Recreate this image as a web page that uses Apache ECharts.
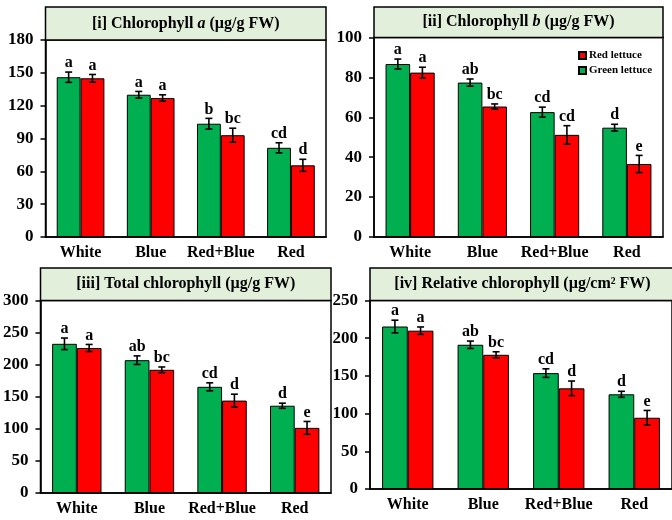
<!DOCTYPE html>
<html>
<head>
<meta charset="utf-8">
<script src="https://cdn.jsdelivr.net/npm/echarts@6/dist/echarts.min.js"></script>
<style>
  html, body { margin: 0; padding: 0; background: #fff; }
  #chart { width: 672px; height: 520px; }
</style>
</head>
<body>
<div id="chart"></div>
<script>
// Light treatments
const categories = ['White', 'Blue', 'Red+Blue', 'Red'];

// [i] Chlorophyll a (µg/g FW)
const chlAGreen = [146, 130, 103.5, 81.5];
const chlAGreenErr = [4.7, 3.0, 4.9, 4.6];
const chlAGreenSig = ['a', 'a', 'b', 'cd'];
const chlARed = [145, 127, 93, 65.5];
const chlARedErr = [3.5, 2.9, 6.4, 5.5];
const chlARedSig = ['a', 'a', 'bc', 'd'];

// [ii] Chlorophyll b (µg/g FW)
const chlBGreen = [86.7, 77.4, 62.6, 54.8];
const chlBGreenErr = [2.5, 1.8, 2.5, 1.7];
const chlBGreenSig = ['a', 'ab', 'cd', 'd'];
const chlBRed = [82.4, 65.4, 51.2, 36.6];
const chlBRedErr = [2.7, 1.3, 4.6, 4.3];
const chlBRedSig = ['a', 'bc', 'cd', 'e'];

// [iii] Total chlorophyll (µg/g FW)
const totGreen = [232.5, 207, 165.5, 136];
const totGreenErr = [9, 6.7, 6.2, 4];
const totGreenSig = ['a', 'ab', 'cd', 'd'];
const totRed = [226, 192, 144, 101.5];
const totRedErr = [5.5, 4.4, 10, 10];
const totRedSig = ['a', 'bc', 'd', 'e'];

// [iv] Relative chlorophyll (µg/cm² FW)
const relGreen = [215.5, 191.3, 153.7, 125.6];
const relGreenErr = [8.4, 4.9, 5.7, 4];
const relGreenSig = ['a', 'ab', 'cd', 'd'];
const relRed = [210, 178, 133.5, 94.5];
const relRedErr = [4.9, 4, 9.7, 9.7];
const relRedSig = ['a', 'bc', 'd', 'e'];

// y-axis scales per panel
const yMax = [180, 100, 300, 250];
const yStep = [30, 20, 50, 50];

const titles = [
  '[i] Chlorophyll {it|a} (µg/g FW)',
  '[ii] Chlorophyll {it|b} (µg/g FW)',
  '[iii] Total chlorophyll (µg/g FW)',
  '[iv] Relative chlorophyll (µg/cm² FW)'
];

const panels = [
  { green: chlAGreen, gErr: chlAGreenErr, gSig: chlAGreenSig, red: chlARed, rErr: chlARedErr, rSig: chlARedSig },
  { green: chlBGreen, gErr: chlBGreenErr, gSig: chlBGreenSig, red: chlBRed, rErr: chlBRedErr, rSig: chlBRedSig },
  { green: totGreen, gErr: totGreenErr, gSig: totGreenSig, red: totRed, rErr: totRedErr, rSig: totRedSig },
  { green: relGreen, gErr: relGreenErr, gSig: relGreenSig, red: relRed, rErr: relRedErr, rSig: relRedSig }
];

// Layout of the four plot boxes and their header strips
const boxes = [
  { left: 45.5, top: 40, width: 280.5, height: 197, headTop: 7 },
  { left: 374, top: 37.5, width: 289, height: 199.5, headTop: 7 },
  { left: 40.5, top: 300.5, width: 290.5, height: 192.5, headTop: 268 },
  { left: 370, top: 300.5, width: 305, height: 188.5, headTop: 268 }
];

const SERIF = '"Liberation Serif", "Times New Roman", serif';
const GREEN = '#00b050';
const RED = '#ff0000';
const CAT_GAP = 0.32;            // barCategoryGap as fraction
const HALF = (1 - CAT_GAP) / 4;  // offset of each bar centre from the category centre

function errorSeries(idx, values, errs, sigs, side) {
  return {
    type: 'custom',
    xAxisIndex: idx,
    yAxisIndex: idx,
    z: 5,
    silent: true,
    data: values.map((v, i) => [i, v, errs[i]]),
    renderItem: function (params, api) {
      const i = api.value(0);
      const v = api.value(1);
      const e = api.value(2);
      const band = api.size([1, 0])[0];
      const c = api.coord([i, v]);
      const cx = c[0] + side * band * HALF;
      const yTop = api.coord([i, v + e])[1];
      const yBot = api.coord([i, v - e])[1];
      const cap = 3.5;
      const ls = { stroke: '#000', lineWidth: 1.6 };
      return {
        type: 'group',
        children: [
          { type: 'line', shape: { x1: cx, y1: yTop, x2: cx, y2: yBot }, style: ls },
          { type: 'line', shape: { x1: cx - cap, y1: yTop, x2: cx + cap, y2: yTop }, style: ls },
          { type: 'line', shape: { x1: cx - cap, y1: yBot, x2: cx + cap, y2: yBot }, style: ls },
          {
            type: 'text', x: cx, y: yTop - 1,
            style: {
              text: sigs[params.dataIndex], fill: '#000',
              font: 'bold 16px ' + SERIF, textAlign: 'center', textVerticalAlign: 'bottom'
            }
          }
        ]
      };
    }
  };
}

const grid = [], xAxis = [], yAxis = [], series = [], title = [], graphic = [];

boxes.forEach((b, k) => {
  grid.push({
    left: b.left, top: b.top, width: b.width, height: b.height,
    show: true, borderColor: '#000', borderWidth: 1.5, backgroundColor: '#fff'
  });
  xAxis.push({
    type: 'category', gridIndex: k, data: categories,
    axisLine: { lineStyle: { color: '#000', width: 1.5 } },
    axisTick: { show: false },
    axisLabel: { interval: 0, color: '#000', fontFamily: SERIF, fontWeight: 'bold', fontSize: 16, margin: 8 }
  });
  yAxis.push({
    type: 'value', gridIndex: k, min: 0, max: yMax[k], interval: yStep[k],
    axisLine: { show: true, lineStyle: { color: '#000', width: 1.5 } },
    axisTick: { show: true, length: 5, lineStyle: { color: '#000', width: 1.5 } },
    splitLine: { show: false },
    axisLabel: { color: '#000', fontFamily: SERIF, fontWeight: 'bold', fontSize: 17, margin: 12 }
  });
  const p = panels[k];
  series.push({
    name: 'Green lettuce', type: 'bar', xAxisIndex: k, yAxisIndex: k,
    data: p.green, barGap: 0, barCategoryGap: (CAT_GAP * 100) + '%',
    itemStyle: { color: GREEN, borderColor: '#000', borderWidth: 1 }
  });
  series.push({
    name: 'Red lettuce', type: 'bar', xAxisIndex: k, yAxisIndex: k,
    data: p.red, barGap: 0, barCategoryGap: (CAT_GAP * 100) + '%',
    itemStyle: { color: RED, borderColor: '#000', borderWidth: 1 }
  });
  series.push(errorSeries(k, p.green, p.gErr, p.gSig, -1));
  series.push(errorSeries(k, p.red, p.rErr, p.rSig, 1));

  // header strip above each plot
  graphic.push({
    type: 'rect', z: 1,
    shape: { x: b.left, y: b.headTop, width: b.width, height: b.top - b.headTop },
    style: { fill: '#e2efda', stroke: '#000', lineWidth: 1.5 }
  });
  title.push({
    text: titles[k],
    left: b.left + b.width / 2,
    top: (b.headTop + b.top) / 2,
    textAlign: 'center',
    textVerticalAlign: 'middle',
    padding: 0,
    textStyle: {
      color: '#000', fontFamily: SERIF, fontWeight: 'bold', fontSize: 16,
      rich: { it: { fontFamily: SERIF, fontWeight: 'bold', fontStyle: 'italic', fontSize: 16, color: '#000' } }
    }
  });
});

const chart = echarts.init(document.getElementById('chart'), null, { renderer: 'canvas' });
chart.setOption({
  backgroundColor: '#fff',
  animation: false,
  title: title,
  grid: grid,
  xAxis: xAxis,
  yAxis: yAxis,
  series: series,
  graphic: graphic,
  legend: {
    data: ['Red lettuce', 'Green lettuce'],
    orient: 'vertical',
    left: 573, top: 45,
    itemWidth: 7, itemHeight: 7, itemGap: 4,
    icon: 'rect',
    textStyle: { color: '#000', fontFamily: SERIF, fontWeight: 'bold', fontSize: 11, padding: [0, 0, 0, -2] }
  }
});
</script>
</body>
</html>
